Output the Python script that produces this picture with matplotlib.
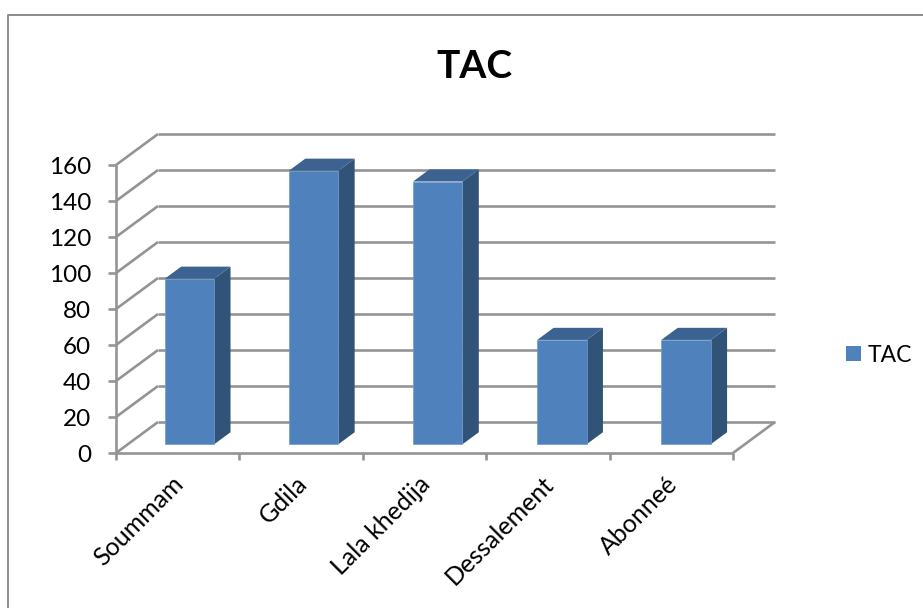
import matplotlib
matplotlib.use("Agg")
import matplotlib.pyplot as plt
from matplotlib.patches import Polygon, Patch
from matplotlib.lines import Line2D

plt.rcParams['font.family'] = ['Lato', 'DejaVu Sans']

categories = ["Soummam", "Gdila", "Lala khedija", "Dessalement", "Abonneé"]
values = [92, 152, 146, 58, 58]
y_ticks = [0, 20, 40, 60, 80, 100, 120, 140, 160]
series_name = "TAC"
title = "TAC"

W, H = 923, 608
fig = plt.figure(figsize=(W / 100, H / 100), dpi=100)
fig.patch.set_facecolor("white")

# plot box in pixels: x 116..733, y 453..165
ax = fig.add_axes([116 / W, 1 - 453 / H, (733 - 116) / W, (453 - 165) / H])
ax.set_xlim(0, len(categories))
ax.set_ylim(0, 160)
ax.axis("off")

GRID = "#949494"
FRONT, SIDE, TOP = "#4f81bd", "#325378", "#3b6290"
DX = 42 / ((733 - 116) / 5)   # depth shift, category units
DY = 31 / 1.8                 # depth shift, value units
LW = 1.9
BAR_STEP = 1.006


def line(xs, ys):
    ax.add_line(Line2D(xs, ys, color=GRID, lw=LW, clip_on=False,
                       solid_capstyle="butt"))


n = len(categories)
for v in y_ticks:
    line([0, DX], [v, v + DY])
    line([DX, n + DX], [v + DY, v + DY])
    line([-8 / 123.4, 0], [v, v])  # y tick
line([0, 0], [0, 160])
line([0, n], [0, 0])
line([n, n + DX], [0, DY])
for i in range(n + 1):
    line([i, i], [0, -7 / 1.8])  # x tick

for v in y_ticks:
    ax.annotate(str(v), (0, v), xytext=(-25, -2), textcoords="offset pixels",
                ha="right", va="center", fontsize=17.5, color="black",
                annotation_clip=False)

for i, c in enumerate(categories):
    ax.annotate(c, (i + 0.5, 0), xytext=(-6, -19), textcoords="offset pixels",
                ha="right", va="top", rotation=45, rotation_mode="anchor",
                fontsize=18, color="black", annotation_clip=False)

F0 = 0.28
BD = 0.39
BW = 0.40
for i, v in enumerate(values):
    x0 = i * BAR_STEP + 0.5 - BW / 2 + F0 * DX
    x1 = x0 + BW
    y0 = F0 * DY
    y1 = y0 + v
    ox, oy = BD * DX, BD * DY
    ax.add_patch(Polygon([(x1, y0), (x1 + ox, y0 + oy), (x1 + ox, y1 + oy), (x1, y1)],
                         fc=SIDE, ec="none", clip_on=False, zorder=3))
    ax.add_patch(Polygon([(x0, y1), (x1, y1), (x1 + ox, y1 + oy), (x0 + ox, y1 + oy)],
                         fc=TOP, ec="none", clip_on=False, zorder=3))
    ax.add_patch(Polygon([(x0, y0), (x1, y0), (x1, y1), (x0, y1)],
                         fc=FRONT, ec="#6f9bd0", lw=0.5, clip_on=False, zorder=4))

fig.text(474 / W, 1 - 66 / H, title, ha="center", va="center",
         fontsize=28, fontweight="bold", color="black")

fig.legend(handles=[Patch(fc=FRONT, ec="none", label=series_name)],
           loc="center left", bbox_to_anchor=(828 / W, 1 - 355 / H),
           frameon=False, fontsize=16.5, handlelength=0.66, handleheight=0.66,
           handletextpad=0.27, borderpad=0.3)

fig.add_artist(Line2D([8 / W, 8 / W, 1], [0, 1 - 15 / H, 1 - 15 / H],
                      transform=fig.transFigure, color="#8c8c8c", lw=1.4))

fig.savefig("out.png", dpi=100)
